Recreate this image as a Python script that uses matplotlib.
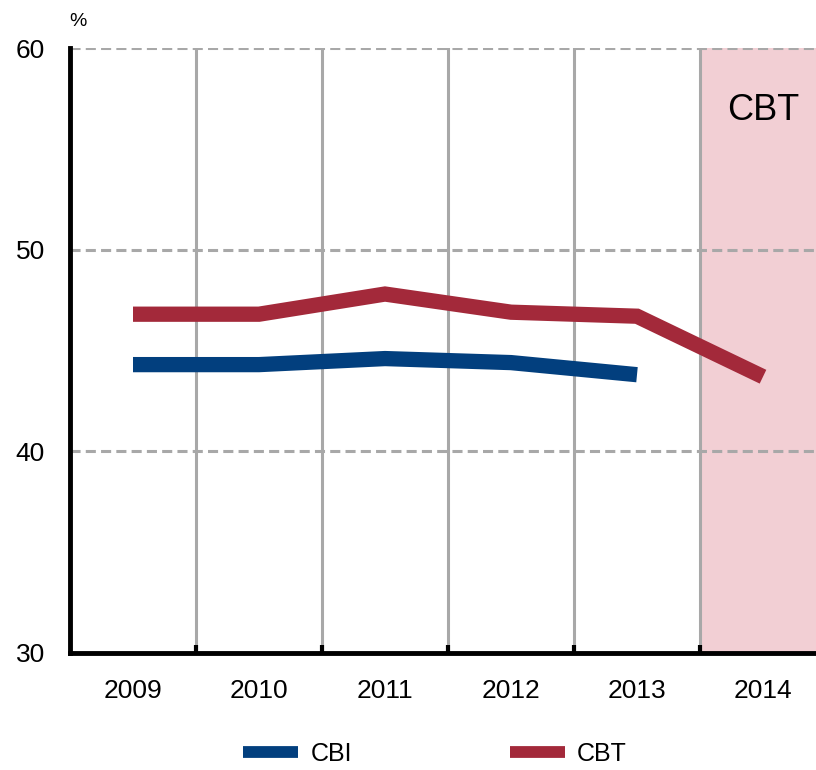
import matplotlib.pyplot as plt
from matplotlib.lines import Line2D

# values
years = ['2009', '2010', '2011', '2012', '2013', '2014']
cbi = [44.3, 44.3, 44.6, 44.4, 43.8]
cbt = [46.8, 46.8, 47.8, 46.9, 46.7, 43.7]

blue = '#023f7e'
red = '#a3293a'
grey = '#a8a8a8'

plt.rcParams['font.family'] = ['Liberation Sans', 'DejaVu Sans']

fig = plt.figure(figsize=(8.16, 7.7), dpi=100)
ax = fig.add_axes([70 / 816, 117 / 770, 756 / 816, 605 / 770])

x = list(range(len(years)))

# shaded forecast column
ax.axvspan(4.5, 5.5, color='#f2cfd4', zorder=0, lw=0)
ax.text(5, 56.9, 'CBT', ha='center', va='center', fontsize=26)

# grid
for yv in [40, 50, 60]:
    ax.axhline(yv, color=grey, lw=2.2, ls=(0, (3.3, 1.7)), zorder=1)
for xv in [0.5, 1.5, 2.5, 3.5, 4.5]:
    ax.axvline(xv, color=grey, lw=2.2, zorder=1)

ax.plot(x[:len(cbi)], cbi, color=blue, lw=11, solid_joinstyle='miter', solid_capstyle='butt', zorder=3)
ax.plot(x, cbt, color=red, lw=11, solid_joinstyle='miter', solid_capstyle='butt', zorder=3)

ax.set_xlim(-0.5, 5.5)
ax.set_ylim(30, 60)
ax.set_yticks([30, 40, 50, 60])
ax.set_xticks(x)
ax.set_xticklabels(years)
ax.set_xticks([0.5, 1.5, 2.5, 3.5, 4.5], minor=True)
ax.tick_params(axis='both', which='major', length=0, labelsize=19)
ax.tick_params(axis='x', which='major', pad=19)
ax.tick_params(axis='y', which='major', pad=18)
ax.tick_params(axis='x', which='minor', direction='in', length=6, width=3, color='black')

for s in ['top', 'right']:
    ax.spines[s].set_visible(False)
for s in ['left', 'bottom']:
    ax.spines[s].set_linewidth(3.5)
    ax.spines[s].set_color('black')
    ax.spines[s].set_zorder(4)

fig.text(78 / 816, 1 - 22 / 770, '%', ha='center', va='center', fontsize=14)

handles = [Line2D([], [], color=blue, lw=8.5, solid_capstyle='butt'),
           Line2D([], [], color=red, lw=8.5, solid_capstyle='butt')]
fig.legend(handles, ['CBI', 'CBT'], loc='center left', bbox_to_anchor=(243 / 816, 16 / 770),
           ncol=2, frameon=False, handlelength=2.2, columnspacing=6.3, handletextpad=0.5,
           borderpad=0, borderaxespad=0, fontsize=18)

fig.savefig('out.png', dpi=100)
